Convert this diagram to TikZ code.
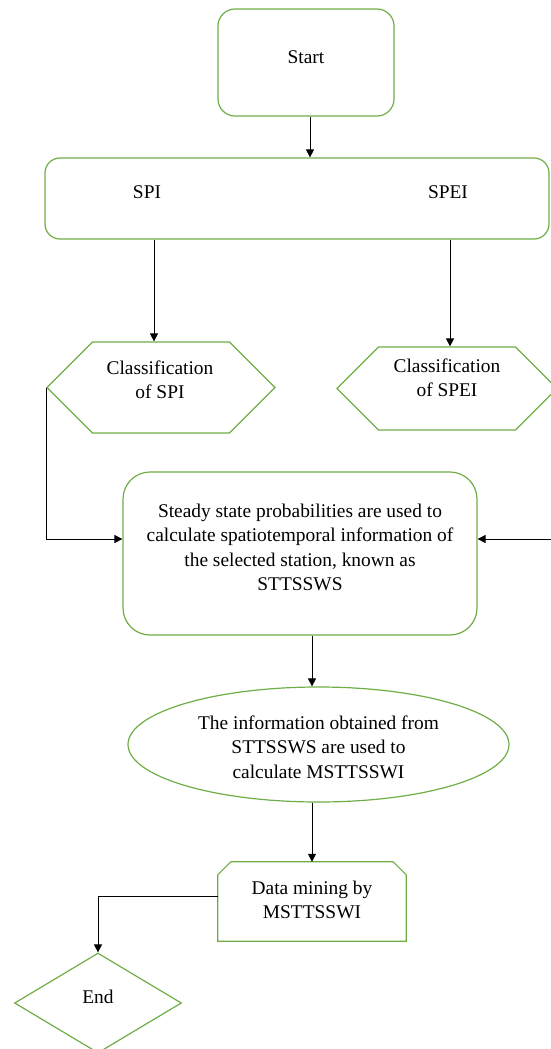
\documentclass[tikz,border=0pt]{standalone}
\usepackage{fontspec}
\setmainfont{Liberation Serif}
\usetikzlibrary{arrows.meta,shapes.geometric,shapes.symbols}
\definecolor{vert}{HTML}{70AD47}

\begin{document}
\begin{tikzpicture}[x=1pt,y=-1pt,font=\fontsize{19.4}{24.5}\selectfont]
    \tikzstyle{boite}=[rectangle,draw=vert,line width=1.2pt,inner sep=0pt]
    \tikzstyle{hexa}=[signal,signal to=east and west,signal pointer angle=90,draw=vert,line width=1.2pt,inner sep=0pt]
    \tikzstyle{ovale}=[ellipse,draw=vert,line width=1.2pt,inner sep=0pt]
    \tikzstyle{losange}=[diamond,draw=vert,line width=1.2pt,inner sep=0pt]
    \tikzstyle{bord}=[draw=vert,line width=1.2pt]
    \tikzstyle{texte}=[align=center,inner sep=0pt]
    \tikzstyle{fleche}=[-{Triangle[length=8pt,width=8pt]},line width=0.8pt]
    \useasboundingbox (0,0) rectangle (550,1049);
    \node[boite,rounded corners=17pt,minimum width=176pt,minimum height=107pt] (1) at (306,62.5) {};
    \node[texte] (t1) at (306,57) {Start};
    \node[boite,rounded corners=15pt,minimum width=504pt,minimum height=81pt] (2) at (297,198.5) {};
    \node[texte] (t2a) at (147,192) {SPI};
    \node[texte] (t2b) at (448,192) {SPEI};
    \node[hexa,minimum width=228pt,minimum height=91pt] (3) at (161,387.5) {};
    \node[texte] (t3) at (160,380) {Classification\\of SPI};
    \node[hexa,minimum width=220pt,minimum height=83pt] (4) at (447,388.5) {};
    \node[texte] (t4) at (447,378) {Classification\\of SPEI};
    \node[boite,rounded corners=27pt,minimum width=354pt,minimum height=163pt] (5) at (300,553.5) {};
    \node[texte] (t5) at (300,547.5) {Steady state probabilities are used to\\calculate spatiotemporal information of\\the selected station, known as\\STTSSWS};
    \node[ovale,minimum width=381pt,minimum height=115pt] (6) at (318.5,744.5) {};
    \node[texte] (t6) at (318.5,747) {The information obtained from\\STTSSWS are used to\\calculate MSTTSSWI};
    % boite avec les coins du haut coupes
    \node[minimum width=188pt,minimum height=79pt,inner sep=0pt] (7) at (312,901.5) {};
    \draw[bord] (7.south west) -- ([yshift=-13pt]7.north west) -- ([xshift=13pt]7.north west) -- ([xshift=-13pt]7.north east) -- ([yshift=-13pt]7.north east) -- (7.south east) -- cycle;
    \node[texte] (t7) at (312,900) {Data mining by\\MSTTSSWI};
    \node[losange,minimum width=167pt,minimum height=100pt] (8) at (98,1003) {};
    \node[texte] (t8) at (98,997) {End};
    \coordinate (d) at (551,539);
    \draw[fleche] ([xshift=4pt]1.south) -- ([xshift=4pt]1.south |- 2.north);
    \draw[fleche] ([xshift=-7pt]3.north |- 2.south) -- ([xshift=-7pt]3.north);
    \draw[fleche] ([xshift=3pt]4.north |- 2.south) -- ([xshift=3pt]4.north);
    \draw[fleche] (3.west) |- ([yshift=14.5pt]5.west);
    \draw[fleche] (d) -- (d -| 5.east);
    \draw[fleche] ([xshift=12pt]5.south) -- ([xshift=12pt]5.south |- 6.north);
    \draw[fleche] (6.south -| 7.north) -- (7.north);
    \draw[fleche] ([yshift=5.5pt]7.west) -| (8.north);
\end{tikzpicture}
\end{document}
